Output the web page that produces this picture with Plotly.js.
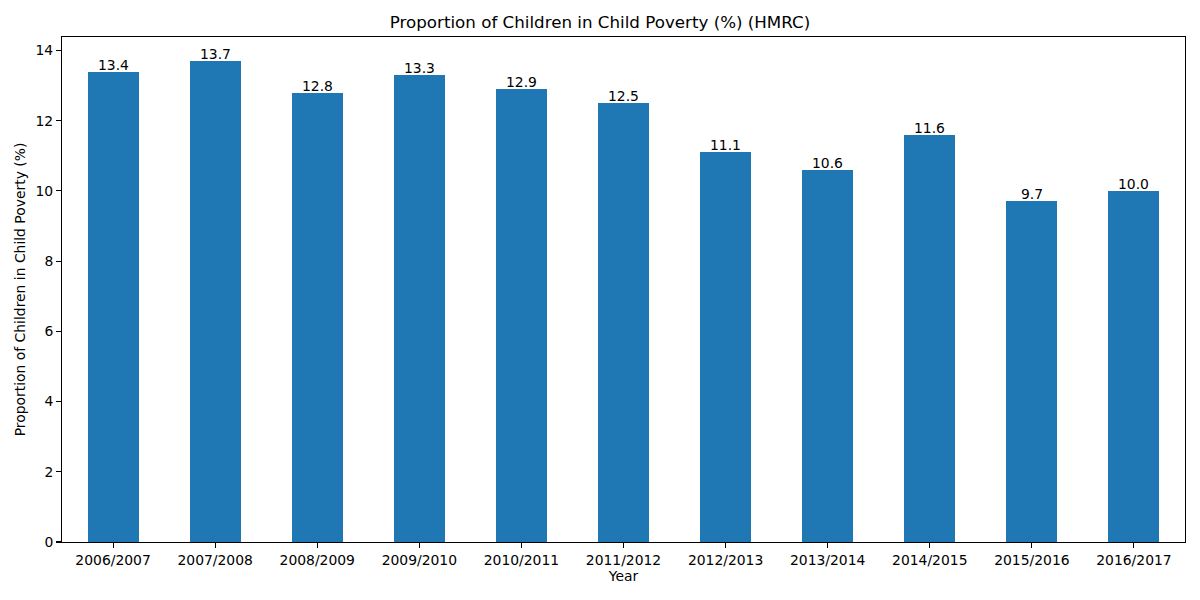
<!DOCTYPE html>
<html>
<head>
<meta charset="utf-8">
<script src="https://cdn.plot.ly/plotly-3.0.1.min.js"></script>
<style>
  html, body { margin: 0; padding: 0; background: #fff; }
  #chart { width: 1200px; height: 600px; }
</style>
</head>
<body>
<div id="chart"></div>
<script>
// Share of children in child poverty by financial year (HMRC figures)
const years = ["2006/2007", "2007/2008", "2008/2009", "2009/2010", "2010/2011",
               "2011/2012", "2012/2013", "2013/2014", "2014/2015", "2015/2016", "2016/2017"];
const proportion = [13.4, 13.7, 12.8, 13.3, 12.9, 12.5, 11.1, 10.6, 11.6, 9.7, 10.0];
const yTicks = [0, 2, 4, 6, 8, 10, 12, 14];

const font = "DejaVu Sans, sans-serif";
const xIdx = years.map((_, i) => i);

const trace = {
  type: "bar",
  x: xIdx,
  y: proportion,
  width: 0.5,
  marker: { color: "#1f77b4", line: { width: 0 } },
  hoverinfo: "skip"
};

// Value labels sitting on top of each bar
const labels = proportion.map((v, i) => ({
  x: xIdx[i],
  y: v,
  xref: "x",
  yref: "y",
  text: v.toFixed(1),
  showarrow: false,
  xanchor: "center",
  yanchor: "bottom",
  borderpad: 0,
  yshift: -2,
  font: { family: font, size: 13.9, color: "#000" }
}));

const axisCommon = {
  showline: true,
  mirror: true,
  linecolor: "#000",
  linewidth: 1.1,
  ticks: "outside",
  ticklen: 4.9,
  tickwidth: 1.1,
  tickcolor: "#000",
  showgrid: false,
  zeroline: false,
  tickfont: { family: font, size: 13.9, color: "#000" }
};

const layout = {
  width: 1200,
  height: 600,
  margin: { l: 62, r: 15, t: 37, b: 58 },
  paper_bgcolor: "#fff",
  plot_bgcolor: "#fff",
  showlegend: false,
  bargap: 0,
  title: {
    text: "Proportion of Children in Child Poverty (%) (HMRC)",
    font: { family: font, size: 16.7, color: "#000" },
    x: 0.5,
    xanchor: "center",
    y: 1 - 22 / 600,
    yanchor: "middle"
  },
  xaxis: Object.assign({}, axisCommon, {
    range: [-0.5, 10.5],
    tickmode: "array",
    tickvals: xIdx,
    ticktext: years,
    tickangle: 0,
    title: { text: "Year", font: { family: font, size: 13.9, color: "#000" }, standoff: 4 }
  }),
  yaxis: Object.assign({}, axisCommon, {
    range: [0, 14.385],
    tickmode: "array",
    tickvals: yTicks,
    ticktext: yTicks.map(String),
    title: { text: "Proportion of Children in Child Poverty (%)", font: { family: font, size: 13.9, color: "#000" }, standoff: 6 }
  }),
  annotations: labels
};

Plotly.newPlot("chart", [trace], layout, { displayModeBar: false, staticPlot: true });
</script>
</body>
</html>
